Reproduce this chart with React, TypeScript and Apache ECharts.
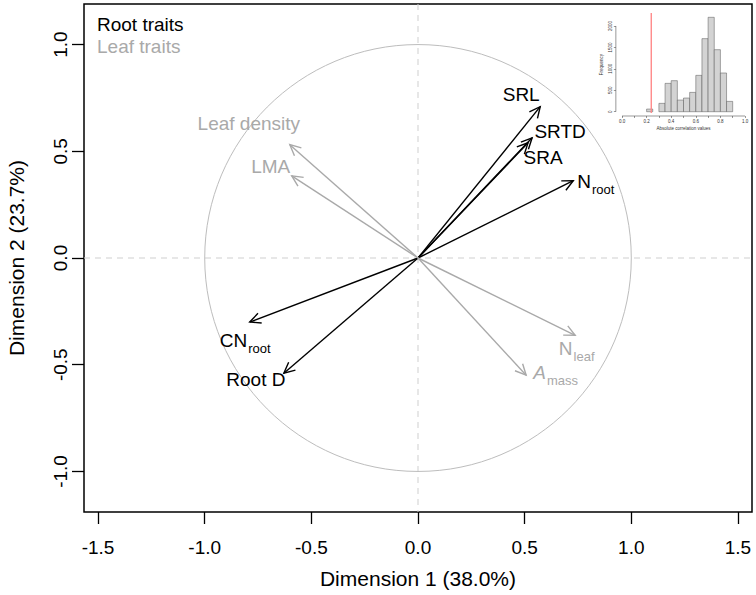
import React, { useEffect, useRef } from "react";
import * as echarts from "echarts";

const FONT = '"Liberation Sans", Arial, Helvetica, sans-serif';

// ---- PCA loadings (arrow tips) ----
const traitNames = ["SRL", "SRTD", "SRA", "Nroot", "CNroot", "Root D", "Leaf density", "LMA", "Nleaf", "Amass"];
const labelMain = ["SRL", "SRTD", "SRA", "N", "CN", "Root D", "Leaf density", "LMA", "N", "A"];
const labelSub = ["", "", "", "root", "root", "", "", "", "leaf", "mass"];
const labelItalic = [false, false, false, false, false, false, false, false, false, true];
const traitGroup = ["root", "root", "root", "root", "root", "root", "leaf", "leaf", "leaf", "leaf"];
const dim1 = [0.573, 0.535, 0.516, 0.728, -0.789, -0.629, -0.601, -0.592, 0.737, 0.507];
const dim2 = [0.709, 0.563, 0.54, 0.362, -0.3, -0.54, 0.531, 0.385, -0.362, -0.549];

// label placement relative to arrow tip (px) - layout only
const labelDx = [-19, 28, 15, 22, -5, -28, -41, -21, 1, 29];
const labelDy = [-12, -6, 15, 1, 18, 6, -21, -9, 13, -3];

const xTickValues = [-1.5, -1.0, -0.5, 0.0, 0.5, 1.0, 1.5];
const yTickValues = [-1.0, -0.5, 0.0, 0.5, 1.0];

const legendItems = ["Root traits", "Leaf traits"];

// ---- inset histogram ----
const binStart = [0.2, 0.25, 0.3, 0.35, 0.4, 0.45, 0.5, 0.55, 0.6, 0.65, 0.7, 0.75, 0.8, 0.85];
const binCount = [62, 0, 195, 661, 724, 272, 319, 451, 848, 1704, 2202, 1447, 903, 241];
const binWidth = 0.05;
const thresholdValue = 0.238;
const insetXLabels = [0, 0.2, 0.4, 0.6, 0.8, 1.0];
const insetXTicks = [0, 0.1, 0.2, 0.3, 0.4, 0.5, 0.6, 0.7, 0.8, 0.9, 1.0];
const insetYTicks = [0, 500, 1000, 1500, 2000];

const ROOT_COLOR = "#000000";
const LEAF_COLOR = "#a9a9a9";

let measureCtx: CanvasRenderingContext2D | null = null;
function textWidth(s: string, size: number, italic = false): number {
  if (!measureCtx) measureCtx = document.createElement("canvas").getContext("2d");
  if (!measureCtx) return s.length * size * 0.55;
  measureCtx.font = `${italic ? "italic " : ""}${size}px ${FONT}`;
  return measureCtx.measureText(s).width;
}

export default function App() {
  const ref = useRef<HTMLDivElement>(null);

  useEffect(() => {
    if (!ref.current) return;
    const chart = echarts.init(ref.current, null, { renderer: "svg" });

    const mainSize = 19;
    const subSize = 13;

    const option: any = {
      animation: false,
      backgroundColor: "#ffffff",
      textStyle: { fontFamily: FONT },
      grid: [
        {
          left: 84,
          right: 4,
          top: 4,
          bottom: 83,
          containLabel: false,
          outerBoundsMode: "none",
          show: true,
          borderColor: "#000",
          borderWidth: 1.5,
          backgroundColor: "transparent",
        },
        {
          left: 615.85,
          top: 13.1,
          width: 135.3,
          height: 102.9,
          containLabel: false,
          outerBoundsMode: "none",
        },
      ],
      xAxis: [
        {
          type: "value",
          gridIndex: 0,
          position: "bottom",
          min: -1.566,
          max: 1.566,
          splitLine: { show: false },
          axisLine: { show: false, onZero: false },
          axisTick: {
            show: true,
            length: 12,
            customValues: xTickValues,
            lineStyle: { color: "#000", width: 1.3 },
          },
          axisLabel: {
            customValues: xTickValues,
            formatter: (v: number) => v.toFixed(1),
            fontSize: 19,
            color: "#000",
            fontFamily: FONT,
            margin: 26,
          },
          name: "Dimension 1 (38.0%)",
          nameLocation: "middle",
          nameGap: 56,
          nameTextStyle: { fontSize: 21, color: "#000", fontFamily: FONT },
        },
        {
          type: "value",
          gridIndex: 1,
          position: "bottom",
          min: -0.05,
          max: 1.05,
          splitLine: { show: false },
          axisLine: { show: false, onZero: false },
          axisTick: {
            show: true,
            length: 2,
            customValues: insetXTicks,
            lineStyle: { color: "#333", width: 0.5 },
          },
          axisLabel: {
            customValues: insetXLabels,
            formatter: (v: number) => v.toFixed(1),
            fontSize: 4.5,
            color: "#333",
            margin: 3,
          },
          name: "Absolute correlation values",
          nameLocation: "middle",
          nameGap: 10,
          nameTextStyle: { fontSize: 4.5, color: "#333" },
        },
      ],
      yAxis: [
        {
          type: "value",
          gridIndex: 0,
          position: "left",
          min: -1.19,
          max: 1.19,
          splitLine: { show: false },
          axisLine: { show: false, onZero: false },
          axisTick: {
            show: true,
            length: 12,
            customValues: yTickValues,
            lineStyle: { color: "#000", width: 1.3 },
          },
          axisLabel: {
            customValues: yTickValues,
            formatter: (v: number) => v.toFixed(1),
            rotate: 90,
            fontSize: 19,
            color: "#000",
            fontFamily: FONT,
            margin: 14,
          },
          name: "Dimension 2 (23.7%)",
          nameLocation: "middle",
          nameGap: 57,
          nameTextStyle: { fontSize: 21, color: "#000", fontFamily: FONT },
        },
        {
          type: "value",
          gridIndex: 1,
          position: "left",
          min: -100,
          max: 2300,
          splitLine: { show: false },
          axisLine: { show: false, onZero: false },
          axisTick: {
            show: true,
            length: 2,
            customValues: insetYTicks,
            lineStyle: { color: "#333", width: 0.5 },
          },
          axisLabel: {
            customValues: insetYTicks,
            formatter: (v: number) => String(v),
            rotate: 90,
            fontSize: 4.5,
            color: "#333",
            margin: 3,
          },
          name: "Frequency",
          nameLocation: "middle",
          nameGap: 12,
          nameTextStyle: { fontSize: 4.5, color: "#333" },
        },
      ],
      graphic: legendItems.map((t, i) => ({
        type: "text",
        x: 97,
        y: 24 + i * 22,
        style: {
          text: t,
          fill: i === 0 ? ROOT_COLOR : LEAF_COLOR,
          fontSize: 19,
          fontFamily: FONT,
          verticalAlign: "middle",
          align: "left",
        },
      })),
      series: [
        // unit circle + dashed zero lines
        {
          type: "custom",
          xAxisIndex: 0,
          yAxisIndex: 0,
          coordinateSystem: "cartesian2d",
          silent: true,
          data: [[0, 0]],
          renderItem: (params: any, api: any) => {
            const c = api.coord([0, 0]);
            const r = api.size([1, 1]);
            const top = api.coord([0, 1.19]);
            const bottom = api.coord([0, -1.19]);
            const left = api.coord([-1.566, 0]);
            const right = api.coord([1.566, 0]);
            const dash = { stroke: "#cfcfcf", lineWidth: 1, lineDash: [6, 5] };
            return {
              type: "group",
              children: [
                { type: "line", shape: { x1: top[0], y1: top[1], x2: bottom[0], y2: bottom[1] }, style: dash },
                { type: "line", shape: { x1: left[0], y1: left[1], x2: right[0], y2: right[1] }, style: dash },
                {
                  type: "ellipse",
                  shape: { cx: c[0], cy: c[1], rx: r[0], ry: r[1] },
                  style: { fill: "none", stroke: "#bdbdbd", lineWidth: 1 },
                },
              ],
            };
          },
          z: 1,
        },
        // arrows
        {
          type: "custom",
          xAxisIndex: 0,
          yAxisIndex: 0,
          coordinateSystem: "cartesian2d",
          silent: true,
          data: dim1.map((v, i) => [v, dim2[i]]),
          renderItem: (params: any, api: any) => {
            const i = params.dataIndex;
            const o = api.coord([0, 0]);
            const t = api.coord([api.value(0), api.value(1)]);
            const color = traitGroup[i] === "root" ? ROOT_COLOR : LEAF_COLOR;
            const ang = Math.atan2(t[1] - o[1], t[0] - o[0]);
            const L = 12;
            const A = Math.PI / 7;
            const p1 = [t[0] - L * Math.cos(ang - A), t[1] - L * Math.sin(ang - A)];
            const p2 = [t[0] - L * Math.cos(ang + A), t[1] - L * Math.sin(ang + A)];
            const mw = textWidth(labelMain[i], mainSize, labelItalic[i]);
            const sw = labelSub[i] ? textWidth(labelSub[i], subSize) : 0;
            const cx = t[0] + labelDx[i];
            const cy = t[1] + labelDy[i];
            const x0 = cx - (mw + sw) / 2;
            const children: any[] = [
              {
                type: "line",
                shape: { x1: o[0], y1: o[1], x2: t[0], y2: t[1] },
                style: { stroke: color, lineWidth: 1.4 },
              },
              {
                type: "polyline",
                shape: { points: [p1, t, p2] },
                style: { stroke: color, lineWidth: 1.4, fill: "none" },
              },
              {
                type: "text",
                x: x0,
                y: cy,
                style: {
                  text: labelMain[i],
                  fill: color,
                  fontSize: mainSize,
                  fontFamily: FONT,
                  fontStyle: labelItalic[i] ? "italic" : "normal",
                  align: "left",
                  verticalAlign: "middle",
                },
              },
            ];
            if (labelSub[i]) {
              children.push({
                type: "text",
                x: x0 + mw + 1,
                y: cy + 8,
                style: {
                  text: labelSub[i],
                  fill: color,
                  fontSize: subSize,
                  fontFamily: FONT,
                  align: "left",
                  verticalAlign: "middle",
                },
              });
            }
            return { type: "group", children };
          },
          z: 3,
        },
        // inset histogram bars
        {
          type: "custom",
          xAxisIndex: 1,
          yAxisIndex: 1,
          coordinateSystem: "cartesian2d",
          silent: true,
          data: binStart.map((s, i) => [s, s + binWidth, binCount[i]]),
          renderItem: (params: any, api: any) => {
            if (api.value(2) <= 0) return null;
            const p0 = api.coord([api.value(0), 0]);
            const p1 = api.coord([api.value(1), api.value(2)]);
            return {
              type: "rect",
              shape: { x: p0[0], y: p1[1], width: p1[0] - p0[0], height: p0[1] - p1[1] },
              style: { fill: "#d3d3d3", stroke: "#555", lineWidth: 0.5 },
            };
          },
          z: 4,
        },
        // inset axis lines (R style: from first to last tick) + threshold line
        {
          type: "custom",
          xAxisIndex: 1,
          yAxisIndex: 1,
          coordinateSystem: "cartesian2d",
          silent: true,
          data: [[thresholdValue, 0]],
          renderItem: (params: any, api: any) => {
            const xa = api.coord([insetXTicks[0], -100]);
            const xb = api.coord([insetXTicks[insetXTicks.length - 1], -100]);
            const ya = api.coord([-0.05, insetYTicks[0]]);
            const yb = api.coord([-0.05, insetYTicks[insetYTicks.length - 1]]);
            const ra = api.coord([api.value(0), -100]);
            const rb = api.coord([api.value(0), 2300]);
            return {
              type: "group",
              children: [
                { type: "line", shape: { x1: xa[0], y1: xa[1], x2: xb[0], y2: xb[1] }, style: { stroke: "#333", lineWidth: 0.5 } },
                { type: "line", shape: { x1: ya[0], y1: ya[1], x2: yb[0], y2: yb[1] }, style: { stroke: "#333", lineWidth: 0.5 } },
                { type: "line", shape: { x1: ra[0], y1: ra[1] - 3, x2: rb[0], y2: rb[1] }, style: { stroke: "#ff8a8a", lineWidth: 1.4 } },
              ],
            };
          },
          z: 5,
        },
      ],
    };

    chart.setOption(option);
    return () => chart.dispose();
  }, []);

  return <div ref={ref} style={{ width: 756, height: 595, position: "absolute", left: 0, top: 0 }} />;
}
